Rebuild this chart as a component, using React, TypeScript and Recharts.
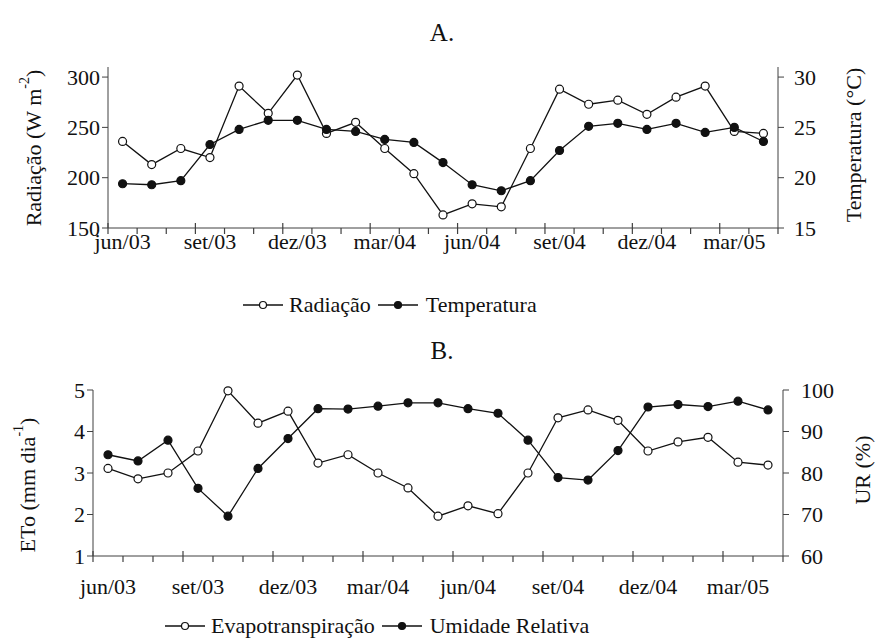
import React from 'react';
import { LineChart, Line, XAxis, YAxis } from 'recharts';

const FONT = '"Liberation Serif", "Times New Roman", serif';
const AXIS = '#404040';

const months = [
  'jun/03', 'jul/03', 'ago/03', 'set/03', 'out/03', 'nov/03', 'dez/03', 'jan/04',
  'fev/04', 'mar/04', 'abr/04', 'mai/04', 'jun/04', 'jul/04', 'ago/04', 'set/04',
  'out/04', 'nov/04', 'dez/04', 'jan/05', 'fev/05', 'mar/05', 'abr/05',
];

// Painel A
const radiacao = [236, 213, 229, 220, 291, 264, 302, 244, 255, 229, 204, 163, 174, 171, 229, 288, 273, 277, 263, 280, 291, 246, 244];
const temperatura = [19.4, 19.3, 19.7, 23.3, 24.8, 25.7, 25.7, 24.8, 24.6, 23.8, 23.5, 21.5, 19.3, 18.7, 19.7, 22.7, 25.1, 25.4, 24.8, 25.4, 24.5, 25.0, 23.6];

// Painel B
const eto = [3.11, 2.86, 3.0, 3.53, 4.98, 4.2, 4.49, 3.24, 3.44, 3.0, 2.64, 1.96, 2.21, 2.02, 3.0, 4.33, 4.52, 4.27, 3.53, 3.75, 3.86, 3.26, 3.19];
const umidade = [84.4, 82.9, 87.9, 76.3, 69.6, 81.1, 88.3, 95.5, 95.4, 96.1, 96.9, 96.9, 95.5, 94.4, 87.9, 78.9, 78.3, 85.4, 95.9, 96.5, 96.0, 97.3, 95.2];

const radTicks = [150, 200, 250, 300];
const tempTicks = [15, 20, 25, 30];
const etoTicks = [1, 2, 3, 4, 5];
const urTicks = [60, 70, 80, 90, 100];

const dataA = months.map((m, i) => ({ m, rad: radiacao[i], temp: temperatura[i] }));
const dataB = months.map((m, i) => ({ m, eto: eto[i], ur: umidade[i] }));

function MonthTick(props: any) {
  const { x, y, payload, bw, labelDy } = props;
  const i = payload.index;
  const left = x - bw / 2;
  const major = i % 3 === 0;
  return (
    <g>
      <line x1={left} x2={left} y1={major ? y - 5 : y} y2={y + 6} stroke={AXIS} strokeWidth={1.2} />
      {i === months.length - 1 && (
        <line x1={x + bw / 2} x2={x + bw / 2} y1={y} y2={y + 6} stroke={AXIS} strokeWidth={1.2} />
      )}
      {major && (
        <text x={x} y={y + labelDy} textAnchor="middle" fontFamily={FONT} fontSize={22} fill="#111">
          {payload.value}
        </text>
      )}
    </g>
  );
}

function VTitle({ cx, cy, main, sup, tail }: { cx: number; cy: number; main: string; sup?: string; tail?: string }) {
  return (
    <text
      x={cx}
      y={cy}
      transform={`rotate(-90, ${cx}, ${cy})`}
      textAnchor="middle"
      dominantBaseline="central"
      fontFamily={FONT}
      fontSize={22}
      fill="#111"
    >
      {main}
      {sup && (
        <tspan dy={-9} fontSize={14}>
          {sup}
        </tspan>
      )}
      {tail && <tspan dy={sup ? 9 : 0}>{tail}</tspan>}
    </text>
  );
}

function Key({ filled }: { filled: boolean }) {
  return (
    <svg width={40} height={12} style={{ display: 'block' }}>
      <line x1={0} x2={40} y1={6} y2={6} stroke="#111" strokeWidth={1.3} />
      <circle cx={20} cy={6} r={3.5} fill={filled ? '#111' : '#fff'} stroke="#111" strokeWidth={1.2} />
    </svg>
  );
}

function LegendRow({ left, top, a, b }: { left: number; top: number; a: string; b: string }) {
  return (
    <div
      style={{
        position: 'absolute',
        left,
        top,
        display: 'flex',
        alignItems: 'center',
        fontFamily: FONT,
        fontSize: 22,
        color: '#111',
        whiteSpace: 'nowrap',
        lineHeight: '26px',
      }}
    >
      <Key filled={false} />
      <span style={{ marginLeft: 6, marginRight: 7 }}>{a}</span>
      <Key filled />
      <span style={{ marginLeft: 8 }}>{b}</span>
    </div>
  );
}

const tickFont = { fontFamily: FONT, fontSize: 22, fill: '#111' };

export default function App() {
  const W = 875;
  const bwA = (W - 108 - 97) / months.length;
  const bwB = (W - 93 - 92) / months.length;
  return (
    <div style={{ position: 'relative', width: W, height: 644, background: '#fff', fontFamily: FONT }}>
      <style>{'body{margin:0}'}</style>

      <div style={{ position: 'absolute', left: 0, top: 19, width: 884, textAlign: 'center', fontSize: 25, color: '#111' }}>
        A.
      </div>
      <div style={{ position: 'absolute', top: 0, left: 0 }}>
        <LineChart width={W} height={260} data={dataA} margin={{ top: 67, right: 0, left: 0, bottom: 0 }}>
          <XAxis
            dataKey="m"
            interval={0}
            height={32}
            tickSize={0}
            tickMargin={0}
            padding={{ left: bwA / 2, right: bwA / 2 }}
            stroke={AXIS}
            tick={<MonthTick bw={bwA} labelDy={21} />}
          />
          <YAxis
            yAxisId="l"
            width={108}
            domain={[150, 310]}
            ticks={radTicks}
            tickSize={6}
            tickMargin={2}
            stroke={AXIS}
            tick={tickFont}
            label={<VTitle cx={33} cy={148} main="Radiação (W m" sup="-2" tail=")" />}
          />
          <YAxis
            yAxisId="r"
            orientation="right"
            width={97}
            domain={[15, 31]}
            ticks={tempTicks}
            tickSize={6}
            tickMargin={10}
            stroke={AXIS}
            tick={tickFont}
            label={<VTitle cx={853} cy={145} main="Temperatura (°C)" />}
          />
          <Line
            yAxisId="l"
            dataKey="rad"
            stroke="#111"
            strokeWidth={1.3}
            dot={{ r: 4, fill: '#fff', stroke: '#111', strokeWidth: 1.2 }}
            isAnimationActive={false}
          />
          <Line
            yAxisId="r"
            dataKey="temp"
            stroke="#111"
            strokeWidth={1.3}
            dot={{ r: 4, fill: '#111', stroke: '#111', strokeWidth: 1.2 }}
            isAnimationActive={false}
          />
        </LineChart>
      </div>
      <LegendRow left={243} top={292} a="Radiação" b="Temperatura" />

      <div style={{ position: 'absolute', left: 0, top: 337, width: 884, textAlign: 'center', fontSize: 25, color: '#111' }}>
        B.
      </div>
      <div style={{ position: 'absolute', top: 340, left: 0 }}>
        <LineChart width={W} height={266} data={dataB} margin={{ top: 50, right: 0, left: 0, bottom: 0 }}>
          <XAxis
            dataKey="m"
            interval={0}
            height={50}
            tickSize={0}
            tickMargin={0}
            padding={{ left: bwB / 2, right: bwB / 2 }}
            stroke={AXIS}
            tick={<MonthTick bw={bwB} labelDy={38} />}
          />
          <YAxis
            yAxisId="l"
            width={93}
            domain={[1, 5]}
            ticks={etoTicks}
            tickSize={6}
            tickMargin={2}
            stroke={AXIS}
            tick={tickFont}
            label={<VTitle cx={27} cy={145} main="ETo (mm dia" sup="-1" tail=")" />}
          />
          <YAxis
            yAxisId="r"
            orientation="right"
            width={92}
            domain={[60, 100]}
            ticks={urTicks}
            tickSize={6}
            tickMargin={12}
            stroke={AXIS}
            tick={tickFont}
            label={<VTitle cx={862} cy={130} main="UR (%)" />}
          />
          <Line
            yAxisId="l"
            dataKey="eto"
            stroke="#111"
            strokeWidth={1.3}
            dot={{ r: 4, fill: '#fff', stroke: '#111', strokeWidth: 1.2 }}
            isAnimationActive={false}
          />
          <Line
            yAxisId="r"
            dataKey="ur"
            stroke="#111"
            strokeWidth={1.3}
            dot={{ r: 4, fill: '#111', stroke: '#111', strokeWidth: 1.2 }}
            isAnimationActive={false}
          />
        </LineChart>
      </div>
      <LegendRow left={165} top={613} a="Evapotranspiração" b="Umidade Relativa" />
    </div>
  );
}
